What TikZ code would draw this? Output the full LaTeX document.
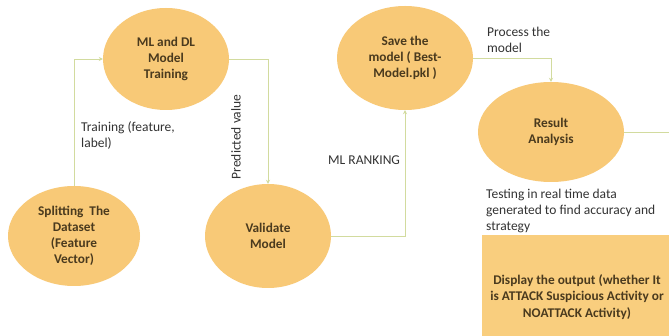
\documentclass[tikz,border=0pt]{standalone}
\usepackage{fontspec}
\setmainfont{Carlito}
\usetikzlibrary{arrows.meta,shapes.geometric}
\definecolor{blob}{HTML}{F8C977}
\definecolor{boxfill}{HTML}{F9CE7E}
\definecolor{blobtext}{HTML}{4A3A1E}
\definecolor{labeltext}{HTML}{333333}
\definecolor{wire}{HTML}{D2DB9E}
\tikzset{
  stage/.style={ellipse, fill=blob, inner sep=0pt, align=center,
    text=blobtext, font=\fontsize{13.3}{16}\selectfont\bfseries},
  outbox/.style={rectangle, fill=boxfill, inner sep=0pt, align=center,
    text=blobtext, font=\fontsize{13.3}{16.5}\selectfont\bfseries},
  note/.style={text=labeltext, align=left, inner sep=0pt,
    font=\fontsize{13.5}{16}\selectfont},
  wireline/.style={draw=wire, line width=0.9pt},
  wirearrow/.style={wireline, -{Stealth[length=4pt,width=4pt]}}
}
\begin{document}
\begin{tikzpicture}[x=1pt,y=-1pt]
\useasboundingbox (0,0) rectangle (669,336);
\fill[white] (0,0) rectangle (669,336);

% process stages
\node[stage, minimum width=126pt, minimum height=102pt] (ml) at (166,59) {ML and DL\\Model\\Training};
\node[stage, minimum width=132pt, minimum height=100pt] (split) at (74,236) {Splitting~ The\\Dataset\\(Feature\\Vector)};
\node[stage, minimum width=126pt, minimum height=104pt] (valid) at (268,236) {Validate\\Model};
\node[stage, minimum width=136pt, minimum height=104pt] (save) at (405,58) {Save the\\model ( Best-\\Model.pkl )};
\node[stage, minimum width=146pt, minimum height=100pt] (result) at (551,132) {Result\\Analysis};

% output box
\node[outbox, minimum width=190pt, minimum height=124pt] (out) at (577,297)
  {Display the output (whether It\\is ATTACK Suspicious Activity or\\NOATTACK Activity)};

% connectors
\coordinate (exit) at (669,132);
\draw[wirearrow] (split.north) |- (ml.west);
\draw[wirearrow] (ml.east) -| (valid.north);
\draw[wirearrow] (valid.east) -| (save.south);
\draw[wirearrow] (save.east) -| (result.north);
\draw[wireline] (result.east) -- (exit);

% edge labels
\node[note, anchor=west] (lbltrain) at (81,136) {Training (feature,\\label)};
\node[note, rotate=90] (lblpred) at (236,137) {Predicted value};
\node[note, anchor=west] (lblrank) at (328,160) {ML RANKING};
\node[note, anchor=west] (lblproc) at (487,40) {Process the\\model};
\node[note, anchor=west] (lbltest) at (486,211) {Testing in real time data\\generated to find accuracy and\\strategy};
\end{tikzpicture}
\end{document}
